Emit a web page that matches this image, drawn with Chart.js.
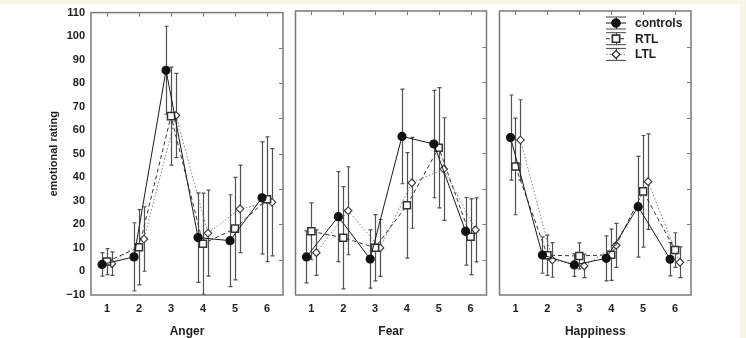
<!DOCTYPE html>
<html><head><meta charset="utf-8">
<script src="https://cdn.jsdelivr.net/npm/chart.js@4/dist/chart.umd.min.js"></script>
<style>
html,body{margin:0;padding:0;}
body{width:746px;height:338px;background:#f7f5e8;position:relative;overflow:hidden;}
#white{position:absolute;left:0;top:4px;width:740px;height:334px;background:#fff;}
.p{position:absolute;top:0;height:338px;}
</style></head><body>
<div id="white"></div>
<div class="p" style="left:0;width:290px"><canvas id="c0"></canvas></div>
<div class="p" style="left:289px;width:204px"><canvas id="c1"></canvas></div>
<div class="p" style="left:493px;width:253px"><canvas id="c2"></canvas></div>
<script>
// ---- data ----
const categories = [1, 2, 3, 4, 5, 6];
const panelTitles = ['Anger', 'Fear', 'Happiness'];
const seriesNames = ['controls', 'RTL', 'LTL'];
const yAxisTitle = 'emotional rating';
const rightTickValues = [5, 20, 35, 50, 65, 80, 95];

const angerControls   = [3.0, 6.2, 85.5, 14.4, 13.1, 31.3];
const angerControlsSD = [5.0, 14.5, 18.7, 19.0, 19.5, 23.8];
const angerRTL        = [4.2, 10.3, 66.0, 11.8, 18.2, 30.7];
const angerRTLSD      = [5.5, 16.0, 20.8, 21.5, 21.8, 26.5];
const angerLTL        = [3.3, 13.8, 66.3, 16.3, 26.6, 29.4];
const angerLTLSD      = [5.0, 13.7, 17.9, 18.3, 18.6, 22.8];

const fearControls    = [6.1, 23.1, 5.2, 57.0, 53.8, 16.9];
const fearControlsSD  = [11.0, 19.0, 12.3, 20.0, 22.7, 14.3];
const fearRTL         = [16.9, 14.2, 10.0, 27.9, 52.2, 14.6];
const fearRTLSD       = [12.0, 21.6, 14.0, 22.3, 25.4, 16.0];
const fearLTL         = [7.9, 25.6, 9.9, 37.4, 43.2, 17.5];
const fearLTLSD       = [9.6, 18.6, 12.0, 19.2, 21.7, 13.5];

const happyControls   = [56.5, 6.9, 2.7, 5.5, 27.3, 5.1];
const happyControlsSD = [18.0, 7.7, 4.8, 9.5, 21.3, 7.0];
const happyRTL        = [44.3, 6.8, 6.5, 7.0, 33.8, 9.0];
const happyRTLSD      = [20.4, 8.5, 5.5, 10.8, 23.6, 7.3];
const happyLTL        = [55.5, 4.8, 2.3, 11.0, 37.9, 3.8];
const happyLTLSD      = [17.0, 7.3, 5.0, 9.3, 20.2, 6.5];

// ---- styles ----
const FONT = "'Liberation Sans', Arial, sans-serif";
const TXT = '#1e1e1e';
const seriesOffsets = [-0.155, 0, 0.155];
const seriesStyles = [
  {color:'#1a1a1a', dash:[], pointStyle:'circle', radius:4, fill:'#111', bw:1.2},
  {color:'#333', dash:[4,3], pointStyle:'rect', radius:5, fill:'#fff', bw:1.5},
  {color:'#808080', dash:[1.5,2], pointStyle:'rectRot', radius:3.8, fill:'#fff', bw:1.1}
];

const panelPlugin = {
  id: 'panelDeco',
  beforeDatasetsDraw(chart) {
    const ctx = chart.ctx, y = chart.scales.y;
    ctx.save();
    ctx.strokeStyle = '#505050';
    ctx.lineWidth = 1.2;
    chart.data.datasets.forEach((ds, i) => {
      const meta = chart.getDatasetMeta(i);
      ds.sd.forEach((e, j) => {
        const pt = meta.data[j];
        const v = ds.data[j].y;
        const x = Math.round(pt.x) + 0.5;
        const t = y.getPixelForValue(v + e), b = y.getPixelForValue(v - e);
        ctx.beginPath();
        ctx.moveTo(x, t); ctx.lineTo(x, b);
        ctx.moveTo(x - 2, t); ctx.lineTo(x + 2, t);
        ctx.moveTo(x - 2, b); ctx.lineTo(x + 2, b);
        ctx.stroke();
      });
    });
    ctx.restore();
  },
  afterDraw(chart) {
    const ctx = chart.ctx, a = chart.chartArea;
    const xs = chart.scales.x, ys = chart.scales.y;
    ctx.save();
    ctx.strokeStyle = '#7a7a7a';
    ctx.lineWidth = 1.5;
    ctx.strokeRect(a.left, a.top, a.right - a.left, a.bottom - a.top);
    ctx.lineWidth = 1;
    ctx.beginPath();
    categories.forEach(c => {
      const x = Math.round(xs.getPixelForValue(c)) + 0.5;
      ctx.moveTo(x, a.top); ctx.lineTo(x, a.top + 4);
    });
    rightTickValues.forEach(v => {
      const yy = Math.round(ys.getPixelForValue(v)) + 0.5;
      ctx.moveTo(a.right, yy); ctx.lineTo(a.right - 4, yy);
    });
    ctx.stroke();

    if (chart.options.plugins.panelDeco && chart.options.plugins.panelDeco.legend) {
      const cx = a.right - 75, tx = a.right - 56;
      seriesNames.forEach((name, i) => {
        const st = seriesStyles[i];
        const cy = a.top + 12 + i * 15.7;
        ctx.strokeStyle = '#444';
        ctx.lineWidth = 1;
        ctx.setLineDash([]);
        ctx.beginPath();
        ctx.moveTo(cx - 10, cy - 6); ctx.lineTo(cx + 10, cy - 6);
        ctx.moveTo(cx - 10, cy + 6); ctx.lineTo(cx + 10, cy + 6);
        ctx.moveTo(cx + 0.5, cy - 6); ctx.lineTo(cx + 0.5, cy + 6);
        ctx.stroke();
        ctx.strokeStyle = st.color;
        ctx.setLineDash(st.dash);
        ctx.beginPath();
        ctx.moveTo(cx - 10, cy); ctx.lineTo(cx + 10, cy);
        ctx.stroke();
        ctx.setLineDash([]);
        ctx.fillStyle = st.fill;
        ctx.strokeStyle = i === 0 ? '#111' : '#333';
        ctx.lineWidth = st.bw;
        Chart.helpers.drawPoint(ctx, {pointStyle: st.pointStyle, radius: st.radius, rotation: 0, borderWidth: st.bw}, cx, cy);
        ctx.fill(); ctx.stroke();
        ctx.fillStyle = TXT;
        ctx.font = 'bold 12px ' + FONT;
        ctx.textBaseline = 'middle';
        ctx.fillText(name, tx, cy + 0.5);
      });
    }
    ctx.restore();
  }
};

function makePanel(id, title, means, sds, first, legend) {
  const datasets = means.map((m, i) => {
    const st = seriesStyles[i];
    return {
      label: seriesNames[i],
      data: categories.map((c, j) => ({x: c + seriesOffsets[i], y: m[j]})),
      sd: sds[i],
      borderColor: st.color,
      borderWidth: 1,
      borderDash: st.dash,
      pointStyle: st.pointStyle,
      pointRadius: st.radius,
      pointBackgroundColor: st.fill,
      pointBorderColor: i === 0 ? '#111' : '#333',
      pointBorderWidth: st.bw,
      tension: 0,
      fill: false
    };
  });
  const yScale = {
    type: 'linear', min: -10, max: 110,
    display: first,
    grid: {display: false, drawTicks: false},
    border: {display: false},
    ticks: {stepSize: 10, padding: 6, color: TXT, font: {family: FONT, size: 11, weight: 'bold'},
            callback: v => v < 0 ? '\u2212' + Math.abs(v) : String(v)},
    title: {display: true, text: yAxisTitle, color: TXT, padding: {top: 4, bottom: 0}, font: {family: FONT, size: 11, weight: 'bold'}}
  };
  if (first) yScale.afterFit = s => { s.width = 48; };
  const ctx = document.getElementById(id);
  return new Chart(ctx, {
    type: 'line',
    data: {datasets},
    plugins: [panelPlugin],
    options: {
      responsive: true,
      maintainAspectRatio: false,
      animation: false,
      devicePixelRatio: 1,
      layout: {padding: first ? {left: 43, right: 7, top: 11, bottom: 0} : {left: 5, right: legend ? 55 : 5, top: 11, bottom: 0}},
      plugins: {legend: {display: false}, tooltip: {enabled: false}, panelDeco: {legend: legend}},
      scales: {
        x: {
          type: 'linear', min: 0.5, max: 6.5,
          afterBuildTicks: s => { s.ticks = categories.map(v => ({value: v})); },
          afterFit: s => { s.height = 43; },
          grid: {display: false, drawTicks: false},
          border: {display: false},
          ticks: {padding: 7, color: TXT, font: {family: FONT, size: 11, weight: 'bold'}, autoSkip: false, maxRotation: 0},
          title: {display: true, text: title, color: TXT, padding: {top: 0, bottom: 0}, font: {family: FONT, size: 12, weight: 'bold', lineHeight: 1}}
        },
        y: yScale
      }
    }
  });
}

makePanel('c0', panelTitles[0], [angerControls, angerRTL, angerLTL], [angerControlsSD, angerRTLSD, angerLTLSD], true, false);
makePanel('c1', panelTitles[1], [fearControls, fearRTL, fearLTL], [fearControlsSD, fearRTLSD, fearLTLSD], false, false);
makePanel('c2', panelTitles[2], [happyControls, happyRTL, happyLTL], [happyControlsSD, happyRTLSD, happyLTLSD], false, true);
</script>
</body></html>
